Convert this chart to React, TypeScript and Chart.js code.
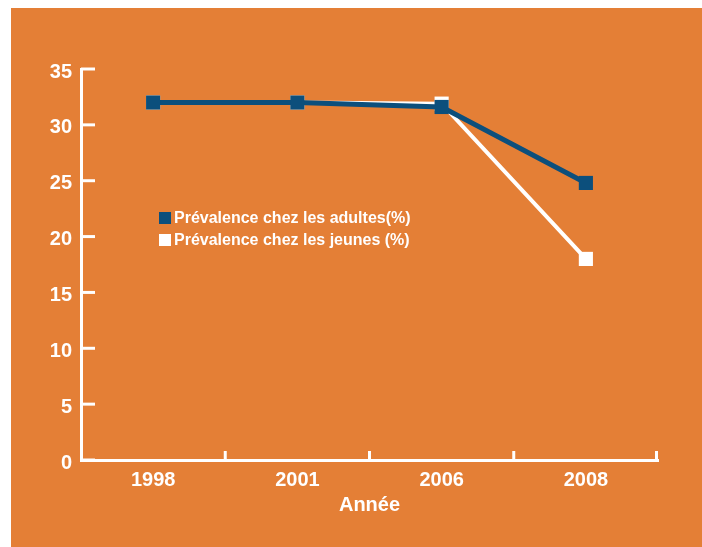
import React, { useEffect, useRef } from "react";
import { Chart, registerables } from "chart.js";

Chart.register(...registerables);

const categories = ["1998", "2001", "2006", "2008"];
const adultsValues = [32, 32, 31.6, 24.8];
const youthValues = [32, 32, 31.9, 18];
const seriesLabels = ["Prévalence chez les adultes(%)", "Prévalence chez les jeunes (%)"];
const xTitle = "Année";

const ORANGE = "#E47F36";
const BLUE = "#0C4F7C";
const WHITE = "#FFFFFF";
const FONT = "'Liberation Sans', Arial, Helvetica, sans-serif";

const axesPlugin = {
  id: "innerTicks",
  afterDatasetsDraw(chart: any) {
    const { ctx, chartArea, scales } = chart;
    const y = scales.y;
    ctx.save();
    ctx.strokeStyle = WHITE;
    ctx.lineWidth = 3;
    ctx.lineCap = "butt";
    y.ticks.forEach((t: any) => {
      const py = y.getPixelForValue(t.value);
      ctx.beginPath();
      ctx.moveTo(chartArea.left, py);
      ctx.lineTo(chartArea.left + 14, py);
      ctx.stroke();
    });
    const n = categories.length;
    const step = (chartArea.right - chartArea.left) / n;
    for (let i = 1; i <= n; i++) {
      const px = i === n ? chartArea.right - 1.5 : chartArea.left + step * i;
      ctx.beginPath();
      ctx.moveTo(px, chartArea.bottom);
      ctx.lineTo(px, chartArea.bottom - 9);
      ctx.stroke();
    }
    ctx.restore();
  },
  afterDraw(chart: any) {
    const { ctx, chartArea } = chart;
    ctx.save();
    ctx.font = `bold 16px ${FONT}`;
    ctx.textBaseline = "middle";
    ctx.textAlign = "left";
    const lx = chartArea.left + 78;
    const ly = chartArea.top + 149;
    chart.data.datasets.forEach((ds: any, i: number) => {
      const yy = ly + i * 22;
      ctx.fillStyle = ds.borderColor;
      ctx.fillRect(lx, yy - 6, 12, 12);
      ctx.fillStyle = WHITE;
      ctx.fillText(ds.label, lx + 15, yy + 1);
    });
    ctx.restore();
  },
};

export default function App() {
  const ref = useRef<HTMLCanvasElement>(null);
  useEffect(() => {
    if (!ref.current) return;
    const chart = new Chart(ref.current, {
      type: "line",
      data: {
        labels: categories,
        datasets: [
          {
            label: seriesLabels[0],
            data: adultsValues,
            borderColor: BLUE,
            backgroundColor: BLUE,
            borderWidth: 5,
            pointStyle: "rect",
            pointRadius: 10,
            pointHoverRadius: 10,
            pointBorderWidth: 0,
            tension: 0,
          },
          {
            label: seriesLabels[1],
            data: youthValues,
            borderColor: WHITE,
            backgroundColor: WHITE,
            borderWidth: 4,
            pointStyle: "rect",
            pointRadius: 10,
            pointHoverRadius: 10,
            pointBorderWidth: 0,
            tension: 0,
          },
        ],
      },
      options: {
        animation: false,
        responsive: false,
        maintainAspectRatio: false,
        layout: { padding: { top: 61, right: 44, left: 0, bottom: 30 } },
        plugins: { legend: { display: false }, tooltip: { enabled: false } },
        scales: {
          x: {
            offset: true,
            grid: { display: false, drawTicks: false },
            border: { display: true, color: WHITE, width: 3 },
            ticks: { color: WHITE, font: { family: FONT, size: 20, weight: "bold" }, padding: 8 },
            title: {
              display: true,
              text: xTitle,
              color: WHITE,
              font: { family: FONT, size: 20, weight: "bold" },
              padding: { top: 4, bottom: 0 },
            },
            afterFit: (s: any) => {
              s.height = 57;
            },
          },
          y: {
            min: 0,
            max: 35,
            ticks: {
              stepSize: 5,
              color: WHITE,
              font: { family: FONT, size: 20, weight: "bold" },
              padding: 9,
              labelOffset: 3,
            },
            grid: { display: false, drawTicks: false },
            border: { display: true, color: WHITE, width: 3 },
            afterFit: (s: any) => {
              s.width = 70;
            },
          },
        },
      },
      plugins: [axesPlugin],
    });
    return () => chart.destroy();
  }, []);
  return (
    <div
      style={{
        position: "fixed",
        left: 11,
        top: 8,
        width: 691,
        height: 539,
        background: ORANGE,
      }}
    >
      <canvas ref={ref} width={691} height={539} style={{ display: "block" }} />
    </div>
  );
}
